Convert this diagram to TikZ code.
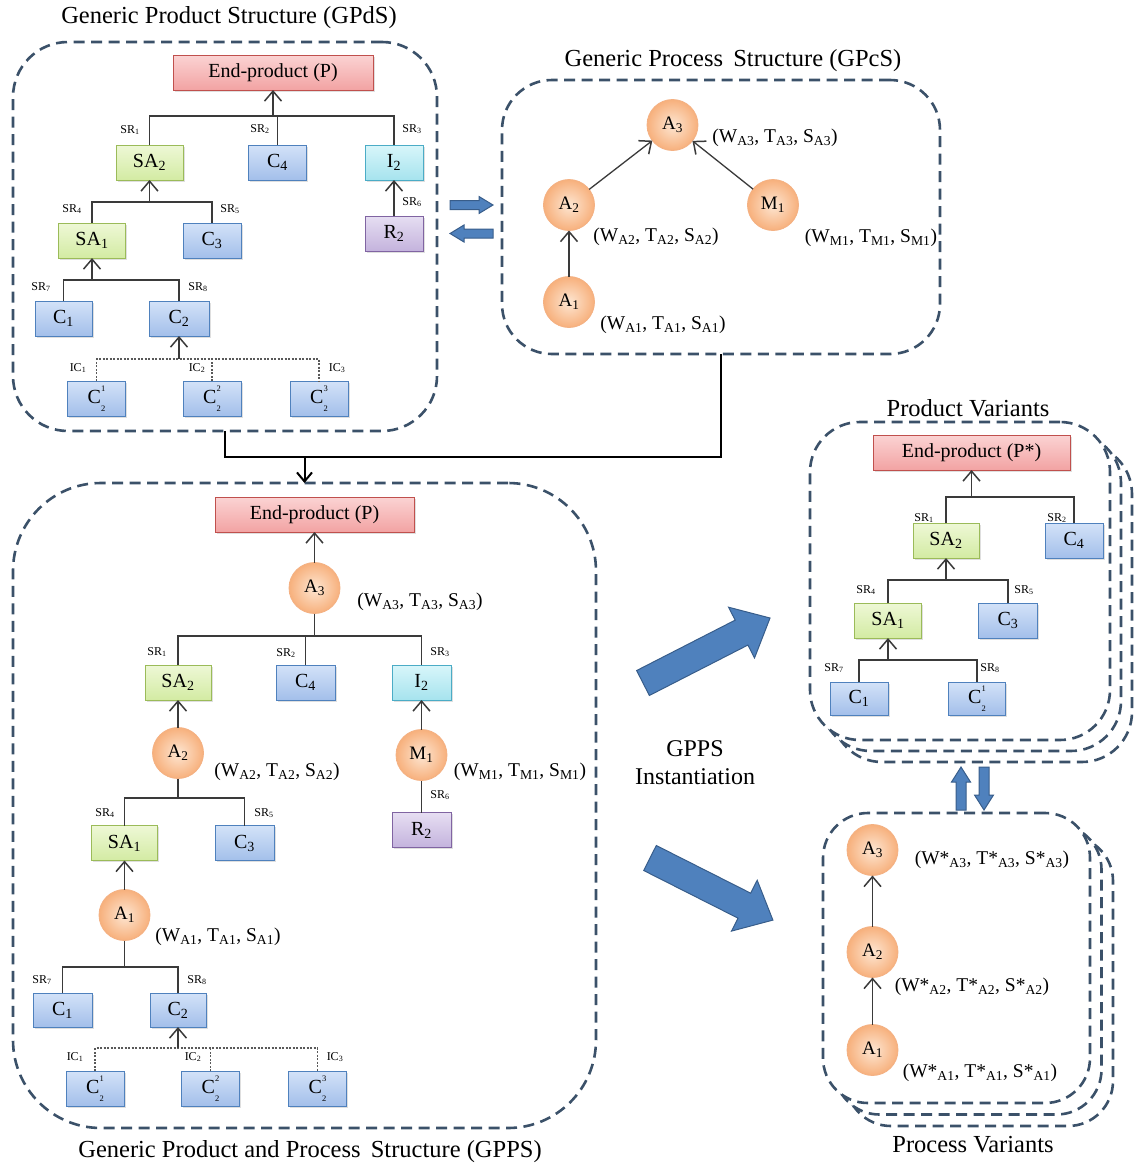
\documentclass[tikz,border=0pt]{standalone}
\usepackage{fontspec}
\setmainfont{Liberation Serif}
\usetikzlibrary{arrows.meta,shadows}

\definecolor{dashcol}{HTML}{3B5169}
\definecolor{linecol}{HTML}{3A3A3A}
\definecolor{redline}{HTML}{C0504D}
\definecolor{redtop}{HTML}{FBD3D3}
\definecolor{redbot}{HTML}{F2A3A3}
\definecolor{grnline}{HTML}{9BBB59}
\definecolor{grntop}{HTML}{EEF8D6}
\definecolor{grnbot}{HTML}{D3EBA3}
\definecolor{bluline}{HTML}{4F81BD}
\definecolor{blutop}{HTML}{D3E2F8}
\definecolor{blubot}{HTML}{A3BFEA}
\definecolor{cyaline}{HTML}{4BACC6}
\definecolor{cyatop}{HTML}{D8F6FA}
\definecolor{cyabot}{HTML}{A6E3EE}
\definecolor{purline}{HTML}{8064A2}
\definecolor{purtop}{HTML}{E6DEF2}
\definecolor{purbot}{HTML}{C4B3DD}
\definecolor{orline}{HTML}{F4B183}
\definecolor{orin}{HTML}{FDE6D2}
\definecolor{orout}{HTML}{F7B07C}
\definecolor{arrfill}{HTML}{4F81BD}
\definecolor{arrline}{HTML}{385D8A}

% variant index set above and below the base letter, e.g. C with 1 over 2
\newcommand\stk[2]{\rlap{\raisebox{0.6em}{\fontsize{8.5}{8.5}\selectfont #1}}%
  \raisebox{-0.38em}{\fontsize{8.5}{8.5}\selectfont #2}}
% block arrow: tail point, angle, length, shaft half width, head half width, head length
\newcommand\blockarrow[6]{%
  \path[blockarr,shift={#1},rotate=#2] (0,-#4) -- ({#3-#6},-#4) -- ({#3-#6},-#5)
    -- (#3,0) -- ({#3-#6},#5) -- ({#3-#6},#4) -- (0,#4) -- cycle;}

\tikzset{
  every node/.style={inner sep=0pt, outer sep=0pt},
  partbox/.style={draw, line width=0.9pt, minimum height=35pt, minimum width=58pt,
    font=\fontsize{20}{20}\selectfont,
    drop shadow={opacity=0.25, shadow xshift=1.5pt, shadow yshift=-1.5pt}},
  redbox/.style={partbox, draw=redline, top color=redtop, bottom color=redbot},
  greenbox/.style={partbox, minimum width=66pt, draw=grnline, top color=grntop, bottom color=grnbot},
  bluebox/.style={partbox, draw=bluline, top color=blutop, bottom color=blubot},
  cyanbox/.style={partbox, draw=cyaline, top color=cyatop, bottom color=cyabot},
  purplebox/.style={partbox, draw=purline, top color=purtop, bottom color=purbot},
  actnode/.style={circle, minimum size=51pt, draw=orline, line width=0.8pt,
    inner color=orin, outer color=orout, font=\fontsize{19}{19}\selectfont},
  parlab/.style={font=\fontsize{19.5}{19.5}\selectfont},
  srlab/.style={font=\fontsize{12}{12}\selectfont},
  caption/.style={font=\fontsize{24.5}{24.5}\selectfont},
  tline/.style={draw=linecol, line width=1.3pt},
  tarr/.style={tline, -{Straight Barb[length=10pt,width=17pt,line width=1.5pt]}},
  iline/.style={draw=gray!70!black, line width=1.1pt, dash pattern=on 2pt off 1.5pt},
  dashbox/.style={draw=dashcol, line width=2.6pt, dash pattern=on 11pt off 6.5pt, fill=white},
  blockarr/.style={fill=arrfill, draw=arrline, line width=1pt, line join=miter},
  flowline/.style={draw=black, line width=2pt},
}

\begin{document}
\begin{tikzpicture}[x=1pt, y=-1pt]
\useasboundingbox (0,0) rectangle (1135,1167);

% ---------- frames ----------
\node[dashbox, rounded corners=55pt, minimum width=424pt, minimum height=389pt] (gpds) at (225,236.5) {};
\node[dashbox, rounded corners=50pt, minimum width=438pt, minimum height=274pt] (gpcs) at (721,217) {};
\node[dashbox, rounded corners=88pt, minimum width=583pt, minimum height=645pt] (gpps) at (304.5,805.5) {};
\node[dashbox, rounded corners=50pt, minimum width=300pt, minimum height=318pt] (pv3) at (982,603) {};
\node[dashbox, rounded corners=50pt, minimum width=300pt, minimum height=318pt] (pv2) at (971,592) {};
\node[dashbox, rounded corners=50pt, minimum width=300pt, minimum height=318pt] (pv1) at (960,581) {};
\node[dashbox, rounded corners=45pt, minimum width=267pt, minimum height=290pt] (cv3) at (979.5,981) {};
\node[dashbox, rounded corners=45pt, minimum width=267pt, minimum height=290pt] (cv2) at (968,969.5) {};
\node[dashbox, rounded corners=45pt, minimum width=267pt, minimum height=290pt] (cv1) at (956.5,958) {};

% ---------- captions ----------
\node[caption] (capgpds) at (229,18) {Generic Product Structure (GPdS)};
\node[caption] (capgpcs) at (733,61) {Generic Process\, Structure (GPcS)};
\node[caption] (capgpps) at (310,1152) {Generic Product and Process\, Structure (GPPS)};
\node[caption] (cappv) at (968,408) {Product Variants};
\node[caption] (capcv) at (973,1145) {Process Variants};
\node[align=center, font=\fontsize{24}{28}\selectfont] (inst) at (695,763) {GPPS\\Instantiation};

% ---------- generic product structure ----------
\node[redbox, minimum width=200pt] (ep1) at (273,72.5) {End-product (P)};
\node[greenbox, minimum width=67pt] (sa2a) at (149.5,162.5) {SA\textsubscript{2}};
\node[bluebox] (c4a) at (277.5,162.5) {C\textsubscript{4}};
\node[cyanbox] (i2a) at (394,162.5) {I\textsubscript{2}};
\node[purplebox] (r2a) at (394,233.5) {R\textsubscript{2}};
\node[greenbox, minimum width=67pt] (sa1a) at (92,240.5) {SA\textsubscript{1}};
\node[bluebox] (c3a) at (212,240.5) {C\textsubscript{3}};
\node[bluebox, minimum width=57pt] (c1a) at (63.5,318.5) {C\textsubscript{1}};
\node[bluebox, minimum width=60pt] (c2a) at (179,318.5) {C\textsubscript{2}};
\node[bluebox] (c21a) at (96.5,398.5) {C\stk{1}{2}};
\node[bluebox] (c22a) at (212,398.5) {C\stk{2}{2}};
\node[bluebox] (c23a) at (319,398.5) {C\stk{3}{2}};

\coordinate (b1a) at (273,116);
\coordinate (b2a) at (149.5,202);
\coordinate (b3a) at (92,280);
\coordinate (b4a) at (179,359);
\draw[tline] (sa2a.north) |- (b1a) -| (i2a.north);
\draw[tline] (c4a.north) -- (c4a.north |- b1a);
\draw[tarr] (b1a) -- (ep1.south);
\draw[tarr] (r2a) -- (i2a);
\draw[tline] (sa1a.north) |- (b2a) -| (c3a.north);
\draw[tarr] (b2a) -- (sa2a.south);
\draw[tline] (c1a.north) |- (b3a) -| (c2a.north);
\draw[tarr] (b3a) -- (sa1a.south);
\draw[iline] (c21a.north) |- (b4a) -| (c23a.north);
\draw[iline] (c22a.north) -- (c22a.north |- b4a);
\draw[tarr] (b4a) -- (c2a.south);

\node[srlab] (sr1a) at (130,130) {SR\textsubscript{1}};
\node[srlab] (sr2a) at (260,129) {SR\textsubscript{2}};
\node[srlab] (sr3a) at (412,129) {SR\textsubscript{3}};
\node[srlab] (sr6a) at (412,202) {SR\textsubscript{6}};
\node[srlab] (sr4a) at (72,209) {SR\textsubscript{4}};
\node[srlab] (sr5a) at (230,209) {SR\textsubscript{5}};
\node[srlab] (sr7a) at (41,287) {SR\textsubscript{7}};
\node[srlab] (sr8a) at (198,287) {SR\textsubscript{8}};
\node[srlab] (ic1a) at (78,368) {IC\textsubscript{1}};
\node[srlab] (ic2a) at (197,368) {IC\textsubscript{2}};
\node[srlab] (ic3a) at (337,368) {IC\textsubscript{3}};

% ---------- generic process structure ----------
\node[actnode] (pa3) at (672.5,125) {A\textsubscript{3}};
\node[actnode] (pa2) at (569,205) {A\textsubscript{2}};
\node[actnode] (pm1) at (773,205) {M\textsubscript{1}};
\node[actnode] (pa1) at (569,302) {A\textsubscript{1}};
\draw[tarr] (pa2) -- (pa3);
\draw[tarr] (pm1) -- (pa3);
\draw[tarr] (pa1) -- (pa2);
\node[parlab] (ppa3) at (775,138) {(W\textsubscript{A3}, T\textsubscript{A3}, S\textsubscript{A3})};
\node[parlab] (ppa2) at (656,237) {(W\textsubscript{A2}, T\textsubscript{A2}, S\textsubscript{A2})};
\node[parlab] (ppm1) at (871,238) {(W\textsubscript{M1}, T\textsubscript{M1}, S\textsubscript{M1})};
\node[parlab] (ppa1) at (663,325) {(W\textsubscript{A1}, T\textsubscript{A1}, S\textsubscript{A1})};

% exchange between product and process structures
\blockarrow{(450,205)}{0}{43}{4.5}{8.5}{14}
\blockarrow{(493,233.5)}{180}{43}{4.5}{8.5}{14}

% merge into the combined structure
\coordinate (j1) at (225,457);
\coordinate (j2) at (721,457);
\coordinate (j3) at (304.5,457);
\draw[flowline] (gpds.south) -- (j1) -- (j2) -- (gpcs.south);
\draw[flowline, -{Straight Barb[length=9pt,width=15pt]}] (j3) -- (gpps.north);

% ---------- generic product and process structure ----------
\node[redbox, minimum width=199pt] (ep2) at (314.5,514.5) {End-product (P)};
\node[actnode] (ga3) at (314.5,588) {A\textsubscript{3}};
\node[parlab] (pga3) at (420,602) {(W\textsubscript{A3}, T\textsubscript{A3}, S\textsubscript{A3})};
\node[greenbox] (sa2b) at (178,682.5) {SA\textsubscript{2}};
\node[bluebox, minimum width=59pt] (c4b) at (305.5,682.5) {C\textsubscript{4}};
\node[cyanbox, minimum width=59pt] (i2b) at (421.5,682.5) {I\textsubscript{2}};
\node[actnode] (ga2) at (178,753) {A\textsubscript{2}};
\node[parlab] (pga2) at (277,772) {(W\textsubscript{A2}, T\textsubscript{A2}, S\textsubscript{A2})};
\node[actnode] (gm1) at (421.5,755) {M\textsubscript{1}};
\node[parlab] (pgm1) at (520,772) {(W\textsubscript{M1}, T\textsubscript{M1}, S\textsubscript{M1})};
\node[purplebox, minimum width=59pt] (r2b) at (421.5,830) {R\textsubscript{2}};
\node[greenbox] (sa1b) at (124.5,843) {SA\textsubscript{1}};
\node[bluebox, minimum width=59pt] (c3b) at (244.5,843) {C\textsubscript{3}};
\node[actnode] (ga1) at (124.5,915) {A\textsubscript{1}};
\node[parlab] (pga1) at (218,937) {(W\textsubscript{A1}, T\textsubscript{A1}, S\textsubscript{A1})};
\node[bluebox, minimum width=59pt, minimum height=34pt] (c1b) at (62.5,1010) {C\textsubscript{1}};
\node[bluebox, minimum width=56pt, minimum height=34pt] (c2b) at (178,1010) {C\textsubscript{2}};
\node[bluebox] (c21b) at (95,1088.5) {C\stk{1}{2}};
\node[bluebox] (c22b) at (210.5,1088.5) {C\stk{2}{2}};
\node[bluebox] (c23b) at (317.5,1088.5) {C\stk{3}{2}};

\coordinate (b1b) at (314.5,636);
\coordinate (b2b) at (178,798);
\coordinate (b3b) at (124.5,967);
\coordinate (b4b) at (178,1048);
\draw[tarr] (ga3) -- (ep2);
\draw[tline] (ga3.south) -- (b1b);
\draw[tline] (sa2b.north) |- (b1b) -| (i2b.north);
\draw[tline] (c4b.north) -- (c4b.north |- b1b);
\draw[tarr] (ga2) -- (sa2b);
\draw[tarr] (gm1) -- (i2b);
\draw[tline] (r2b.north) -- (gm1.south);
\draw[tline] (ga2.south) -- (b2b);
\draw[tline] (sa1b.north) |- (b2b) -| (c3b.north);
\draw[tarr] (ga1) -- (sa1b);
\draw[tline] (ga1.south) -- (b3b);
\draw[tline] (c1b.north) |- (b3b) -| (c2b.north);
\draw[iline] (c21b.north) |- (b4b) -| (c23b.north);
\draw[iline] (c22b.north) -- (c22b.north |- b4b);
\draw[tarr] (b4b) -- (c2b.south);

\node[srlab] (sr1b) at (157,652) {SR\textsubscript{1}};
\node[srlab] (sr2b) at (286,653) {SR\textsubscript{2}};
\node[srlab] (sr3b) at (440,652) {SR\textsubscript{3}};
\node[srlab] (sr6b) at (440,795) {SR\textsubscript{6}};
\node[srlab] (sr4b) at (105,813) {SR\textsubscript{4}};
\node[srlab] (sr5b) at (264,813) {SR\textsubscript{5}};
\node[srlab] (sr7b) at (42,980) {SR\textsubscript{7}};
\node[srlab] (sr8b) at (197,980) {SR\textsubscript{8}};
\node[srlab] (ic1b) at (75,1057) {IC\textsubscript{1}};
\node[srlab] (ic2b) at (193,1057) {IC\textsubscript{2}};
\node[srlab] (ic3b) at (335,1057) {IC\textsubscript{3}};

% ---------- instantiation ----------
\blockarrow{(643,683)}{27.1}{142.7}{14}{28.5}{32}
\blockarrow{(650,858)}{-26.8}{137.7}{14}{28.5}{32}

% ---------- product variant ----------
\node[redbox, minimum width=197pt] (ep3) at (971.5,452.5) {End-product (P*)};
\node[greenbox] (sa2c) at (946,540.5) {SA\textsubscript{2}};
\node[bluebox] (c4c) at (1074,540.5) {C\textsubscript{4}};
\node[greenbox, minimum width=67pt] (sa1c) at (888,620.5) {SA\textsubscript{1}};
\node[bluebox, minimum width=59pt] (c3c) at (1008,620.5) {C\textsubscript{3}};
\node[bluebox, minimum height=33pt] (c1c) at (859,698.5) {C\textsubscript{1}};
\node[bluebox, minimum width=57pt, minimum height=33pt] (c21c) at (977,698.5) {C\stk{1}{2}};

\coordinate (b1c) at (971.5,497);
\coordinate (b2c) at (946,580);
\coordinate (b3c) at (888,660);
\draw[tline] (sa2c.north) |- (b1c) -| (c4c.north);
\draw[tarr] (b1c) -- (ep3.south);
\draw[tline] (sa1c.north) |- (b2c) -| (c3c.north);
\draw[tarr] (b2c) -- (sa2c.south);
\draw[tline] (c1c.north) |- (b3c) -| (c21c.north);
\draw[tarr] (b3c) -- (sa1c.south);

\node[srlab] (sr1c) at (924,518) {SR\textsubscript{1}};
\node[srlab] (sr2c) at (1057,518) {SR\textsubscript{2}};
\node[srlab] (sr4c) at (866,590) {SR\textsubscript{4}};
\node[srlab] (sr5c) at (1024,590) {SR\textsubscript{5}};
\node[srlab] (sr7c) at (834,668) {SR\textsubscript{7}};
\node[srlab] (sr8c) at (990,668) {SR\textsubscript{8}};

% ---------- process variant ----------
\node[actnode] (va3) at (872.5,850) {A\textsubscript{3}};
\node[actnode] (va2) at (872.5,952) {A\textsubscript{2}};
\node[actnode] (va1) at (872.5,1050) {A\textsubscript{1}};
\draw[tarr] (va1) -- (va2);
\draw[tarr] (va2) -- (va3);
\node[parlab] (pva3) at (992,860) {(W*\textsubscript{A3}, T*\textsubscript{A3}, S*\textsubscript{A3})};
\node[parlab] (pva2) at (972,987) {(W*\textsubscript{A2}, T*\textsubscript{A2}, S*\textsubscript{A2})};
\node[parlab] (pva1) at (980,1073) {(W*\textsubscript{A1}, T*\textsubscript{A1}, S*\textsubscript{A1})};

% exchange between product and process variants
\blockarrow{(961,810)}{90}{43}{5}{9.5}{15}
\blockarrow{(984,767)}{-90}{43}{5}{9.5}{15}

\end{tikzpicture}
\end{document}
